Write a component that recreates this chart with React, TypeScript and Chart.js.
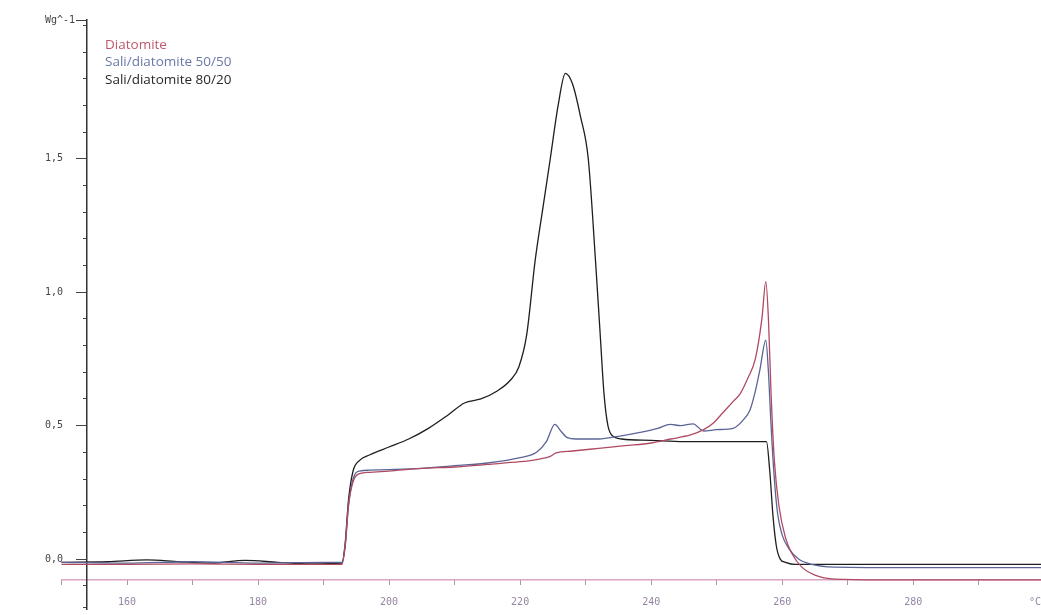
import React, { useEffect, useRef } from "react";
import { Chart, registerables } from "chart.js";

Chart.register(...registerables);

// Diatomite
const diatT = [150, 160, 170, 180, 190, 192.8, 193.3, 193.8, 194.5, 195.5, 197, 200, 205, 210, 215, 220, 223, 224.6, 225.5, 228, 232, 236, 240, 243, 246, 248, 249.5, 251, 252.5, 253.6, 254.8, 255.9, 256.9, 257.5, 257.9, 258.3, 258.8, 259.5, 260.5, 261.5, 263, 265, 268, 275, 290, 299.5];
const diatW = [-0.02, -0.02, -0.018, -0.02, -0.02, -0.02, 0.05, 0.2, 0.29, 0.32, 0.325, 0.33, 0.34, 0.345, 0.355, 0.365, 0.375, 0.385, 0.398, 0.405, 0.415, 0.425, 0.435, 0.45, 0.465, 0.485, 0.51, 0.55, 0.59, 0.62, 0.68, 0.75, 0.9, 1.04, 0.9, 0.62, 0.37, 0.2, 0.08, 0.02, -0.03, -0.06, -0.075, -0.078, -0.078, -0.078];

// Sali/diatomite 50/50
const s50T = [150, 160, 170, 180, 190, 192.8, 193.3, 193.8, 194.5, 195.5, 197, 200, 205, 210, 215, 220, 222.5, 224, 225.3, 226.2, 227.2, 228.5, 232, 235, 238.3, 241, 242.9, 244.5, 246.4, 248, 250, 252.5, 254, 255.1, 256, 256.6, 257.5, 257.9, 258.3, 258.8, 259.3, 260, 261, 262.5, 264.5, 268, 280, 299.5];
const s50W = [-0.012, -0.015, -0.01, -0.015, -0.012, -0.012, 0.05, 0.2, 0.3, 0.33, 0.333, 0.335, 0.34, 0.35, 0.36, 0.38, 0.40, 0.44, 0.505, 0.48, 0.455, 0.45, 0.45, 0.46, 0.475, 0.49, 0.505, 0.5, 0.507, 0.48, 0.485, 0.49, 0.52, 0.56, 0.64, 0.71, 0.82, 0.7, 0.5, 0.3, 0.17, 0.09, 0.04, 0.0, -0.02, -0.03, -0.032, -0.032];

// Sali/diatomite 80/20
const s80T = [150, 157, 163, 168, 173, 178, 183, 188, 192.8, 193.3, 193.8, 194.5, 195.5, 197, 200, 203, 206, 209, 211.5, 214, 216.5, 218.5, 219.8, 221, 222.3, 223.5, 224.6, 225.8, 226.9, 228, 229.2, 230.4, 231.5, 232.2, 232.8, 233.4, 234.2, 235.5, 240, 245, 250, 255, 257.6, 258.1, 258.6, 259.1, 259.7, 260.5, 262, 270, 285, 299.5];
const s80W = [-0.012, -0.01, -0.003, -0.01, -0.015, -0.005, -0.012, -0.018, -0.015, 0.06, 0.22, 0.33, 0.37, 0.39, 0.42, 0.45, 0.49, 0.54, 0.585, 0.6, 0.63, 0.67, 0.72, 0.84, 1.12, 1.32, 1.5, 1.7, 1.82, 1.78, 1.66, 1.5, 1.12, 0.85, 0.62, 0.5, 0.46, 0.45, 0.445, 0.44, 0.44, 0.44, 0.44, 0.33, 0.16, 0.05, 0.0, -0.012, -0.02, -0.02, -0.02, -0.02];

const seriesLabels = ["Diatomite", "Sali/diatomite 50/50", "Sali/diatomite 80/20"];
const seriesColors = ["#b04a62", "#5a6596", "#1e1e1e"];
const legendColors = ["#c0586a", "#6a78a8", "#2a2a2a"];

const xMin = 150;
const xMax = 299.5;
const xLabelValues = [150, 160, 180, 200, 220, 240, 260, 280, 299.5];
const xLabels = ["", "160", "180", "200", "220", "240", "260", "280", "°C"];
const xTickMarkValues = [150, 160, 170, 180, 190, 200, 210, 220, 230, 240, 250, 260, 270, 280, 290];

const yMin = -0.187;
const yMax = 2.02;
const yMajorValues = [0, 0.5, 1.0, 1.5, 2.02];
const yMajorLabels = ["0,0    ", "0,5    ", "1,0    ", "1,5    ", "Wg^-1  "];
const yMinorValues = [-0.18, -0.1, 0.1, 0.2, 0.3, 0.4, 0.6, 0.7, 0.8, 0.9, 1.1, 1.2, 1.3, 1.4, 1.6, 1.7, 1.8, 1.9, 2.0];

const yAxisAtX = 153.9;
const xAxisAtY = -0.079;

const toPoints = (ts: number[], ws: number[]) => ts.map((t, i) => ({ x: t, y: ws[i] }));

const legendPlugin = {
  id: "inlineLegend",
  afterDraw(chart: any) {
    const ctx = chart.ctx;
    const left = chart.chartArea.left + 43.5;
    const top = chart.chartArea.top + 25;
    ctx.save();
    ctx.font = "13.5px 'Open Sans'";
    ctx.textBaseline = "middle";
    ctx.textAlign = "left";
    chart.data.datasets.forEach((ds: any, i: number) => {
      ctx.fillStyle = legendColors[i];
      ctx.fillText(ds.label, left, top + i * 17.5);
    });
    ctx.restore();
  },
};

export default function App() {
  const canvasRef = useRef<HTMLCanvasElement | null>(null);

  useEffect(() => {
    if (!canvasRef.current) return;
    const yFont = { family: "'DejaVu Sans Mono'", size: 10 };
    const xFont = { family: "'DejaVu Sans Mono'", size: 10 };
    const chart = new Chart(canvasRef.current, {
      type: "line",
      data: {
        datasets: [
          { label: seriesLabels[0], data: toPoints(diatT, diatW), borderColor: seriesColors[0] },
          { label: seriesLabels[1], data: toPoints(s50T, s50W), borderColor: seriesColors[1] },
          { label: seriesLabels[2], data: toPoints(s80T, s80W), borderColor: seriesColors[2] },
        ].map((d) => ({
          ...d,
          borderWidth: 1.3,
          pointRadius: 0,
          fill: false,
          cubicInterpolationMode: "monotone" as const,
          clip: false as any,
        })),
      },
      options: {
        responsive: false,
        animation: false,
        layout: { padding: { left: 61.5, top: 20, right: 0, bottom: 3 } },
        plugins: { legend: { display: false }, tooltip: { enabled: false } },
        scales: {
          x: {
            type: "linear",
            min: xMin,
            max: xMax,
            position: { y: xAxisAtY } as any,
            afterBuildTicks: (s: any) => {
              s.ticks = xLabelValues.map((v) => ({ value: v }));
            },
            ticks: {
              autoSkip: false,
              maxRotation: 0,
              align: "inner",
              padding: 0,
              font: xFont,
              color: "#9585a5",
              callback: (_v: any, i: number) => xLabels[i],
            },
            grid: { drawOnChartArea: false, tickLength: 16, tickColor: "rgba(0,0,0,0)" },
            border: { color: "#d6a6c4", width: 1.5 },
          },
          xMarks: {
            type: "linear",
            axis: "x",
            min: xMin,
            max: xMax,
            position: { y: xAxisAtY } as any,
            afterBuildTicks: (s: any) => {
              s.ticks = xTickMarkValues.map((v) => ({ value: v }));
            },
            ticks: { display: false },
            grid: { drawOnChartArea: false, tickLength: 5, tickColor: "#b890a8" },
            border: { display: false },
          },
          y: {
            type: "linear",
            min: yMin,
            max: yMax,
            position: { x: yAxisAtX } as any,
            afterBuildTicks: (s: any) => {
              s.ticks = yMajorValues.map((v) => ({ value: v }));
            },
            ticks: {
              autoSkip: false,
              padding: 0,
              font: yFont,
              color: "#444",
              callback: (_v: any, i: number) => yMajorLabels[i],
            },
            grid: { drawOnChartArea: false, tickLength: 10, tickColor: "#444" },
            border: { color: "#333", width: 1.5 },
          },
          yMinor: {
            type: "linear",
            axis: "y",
            min: yMin,
            max: yMax,
            position: { x: yAxisAtX } as any,
            afterBuildTicks: (s: any) => {
              s.ticks = yMinorValues.map((v) => ({ value: v }));
            },
            ticks: { display: false },
            grid: { drawOnChartArea: false, tickLength: 4, tickColor: "#444" },
            border: { display: false },
          },
        },
      },
      plugins: [legendPlugin],
    } as any);
    return () => chart.destroy();
  }, []);

  return (
    <div style={{ position: "fixed", left: 0, top: 0, width: 1041, height: 615, background: "#fff" }}>
      <canvas ref={canvasRef} width={1041} height={615} />
    </div>
  );
}
